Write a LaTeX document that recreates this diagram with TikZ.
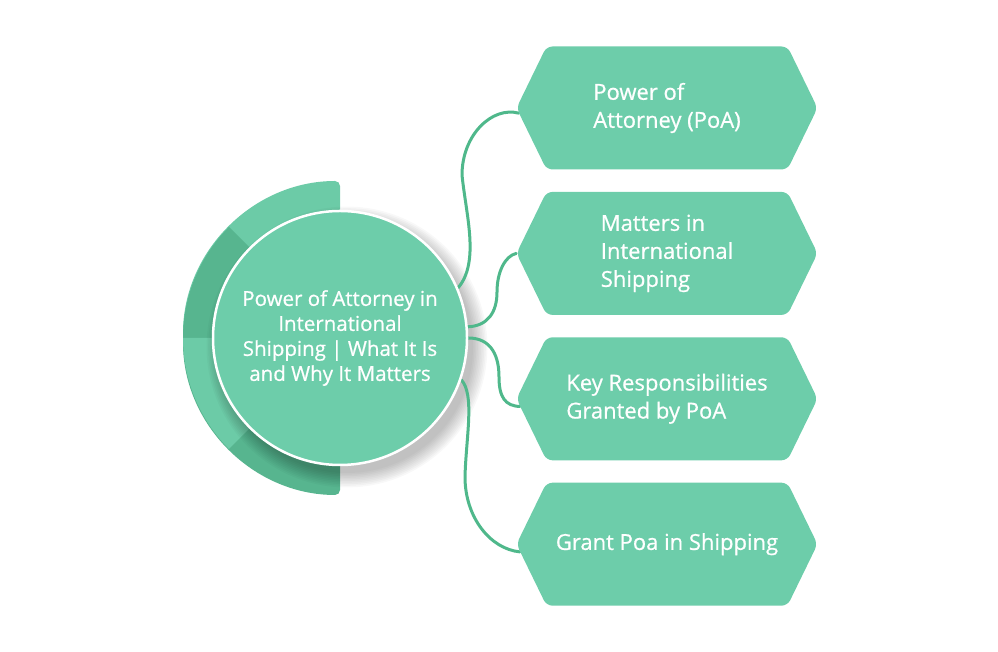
\documentclass[tikz,border=0pt]{standalone}
\usepackage{fontspec}
\setmainfont{Open Sans}[FakeBold=0.7]
\usepackage{xcolor}
\usepackage{tikz}
\usetikzlibrary{shapes.symbols, positioning, calc, backgrounds}

\definecolor{mint}{HTML}{6DCDAA}
\definecolor{mintdark}{HTML}{57B58F}
\definecolor{mintlight}{HTML}{6CCBA7}
\definecolor{linkgreen}{HTML}{4FB88B}

\begin{document}
\begin{tikzpicture}[
    x=1pt, y=1pt,
    hexbox/.style={signal, signal to=west and east, signal pointer angle=128,
        minimum width=301pt, minimum height=123pt, inner sep=0pt,
        fill=mint, rounded corners=6pt, text=white, align=left,
        font=\fontsize{22}{28}\selectfont},
    hubnode/.style={circle, minimum size=254pt, inner sep=0pt,
        fill=mint, draw=white, line width=2.5pt, text=white, align=center,
        font=\fontsize{20.5}{25}\selectfont},
    link/.style={draw=linkgreen, line width=3pt, line cap=round}
]
\useasboundingbox (0,0) rectangle (998,652);

% === 中心圆 ===
\node[hubnode] (hub) at (340,314) {Power of Attorney in\\International\\Shipping | What It Is\\and Why It Matters};

% === 右侧六边形 ===
\node[hexbox] (p1) at (667,544) {Power of\\Attorney (PoA)};
\node[hexbox, below=22pt of p1] (p2) {Matters in\\International\\Shipping};
\node[hexbox, below=22pt of p2] (p3) {Key Responsibilities\\Granted by PoA};
\node[hexbox, below=22pt of p3] (p4) {Grant Poa in Shipping};

\begin{scope}[on background layer]
% === 左侧半环（四段，两端圆角） ===
\fill[mintlight, rounded corners=5pt] (hub.center) -- ++(90:157pt) arc[start angle=90, end angle=180, radius=157pt] -- cycle;
\fill[mintdark, rounded corners=5pt]  (hub.center) -- ++(180:157pt) arc[start angle=180, end angle=270, radius=157pt] -- cycle;
\fill[mintdark]  (hub.center) -- ++(135:157pt) arc[start angle=135, end angle=180, radius=157pt] -- cycle;
\fill[mintlight] (hub.center) -- ++(180:157pt) arc[start angle=180, end angle=225, radius=157pt] -- cycle;

% === 阴影 ===
\foreach \i in {0,...,9}
    \fill[black, opacity=0.028] ($(hub.center)+(7pt,-9pt)$) circle[radius=126pt+1.6*\i pt];

% === 连线 ===
\draw[link] (hub.23) .. controls (480,390) and (466,437) .. (462,477)
    .. controls (462,517) and (492,546) .. (p1.182);
\draw[link] (hub.5) .. controls (488,326) and (497,340) .. (497,360)
    .. controls (497,380) and (505,396) .. (p2.west);
\draw[link] (hub.0) .. controls (492,314) and (499,295) .. (499,275)
    .. controls (499,255) and (505,246) .. (p3.183);
\draw[link] (hub.-19) .. controls (475,257) and (466,215) .. (465,175)
    .. controls (465,135) and (490,103) .. (p4.183);
\end{scope}

\end{tikzpicture}
\end{document}
